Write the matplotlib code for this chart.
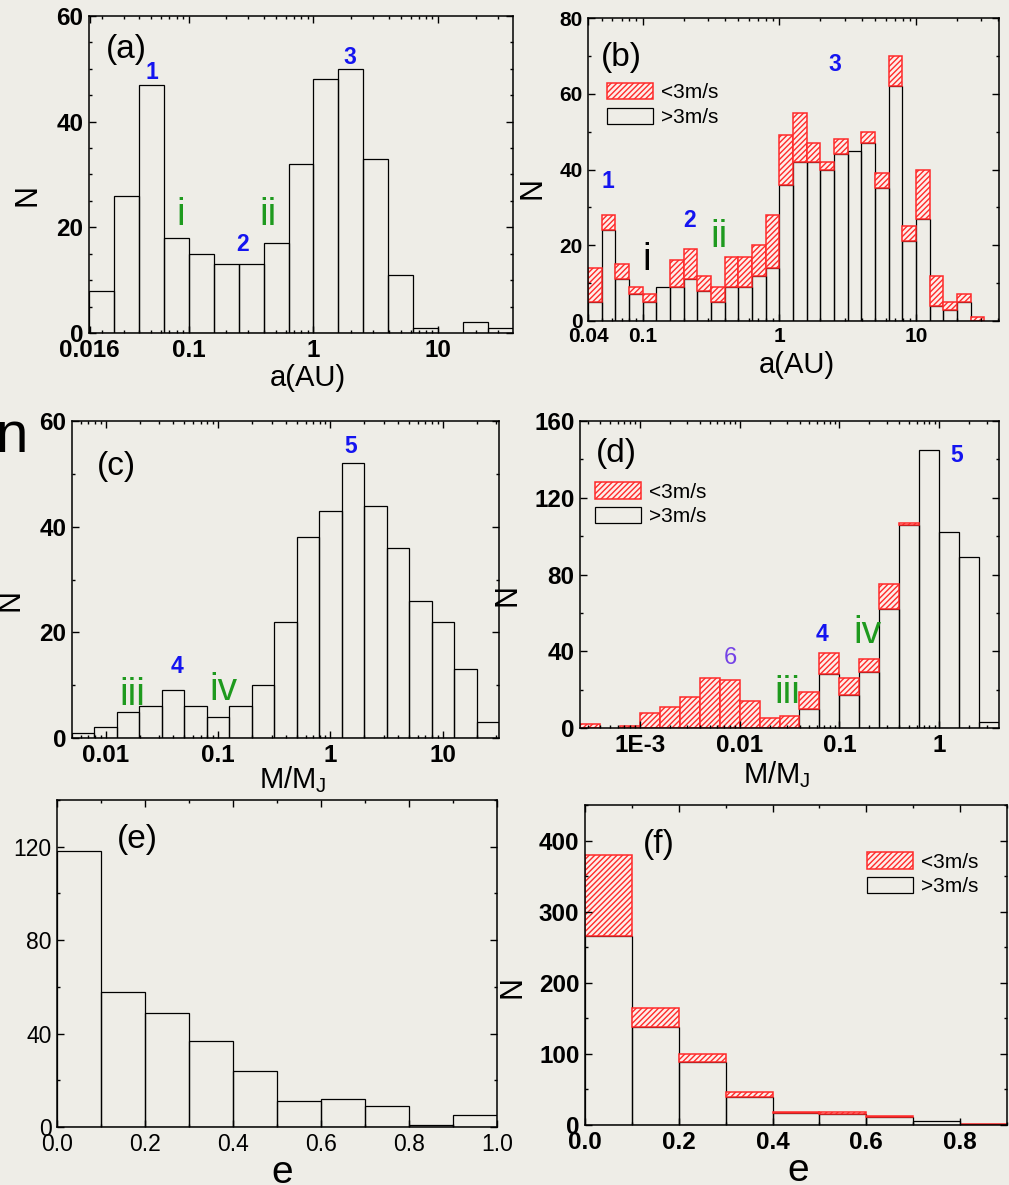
import numpy as np
import matplotlib
matplotlib.use('Agg')
import matplotlib.pyplot as plt
from matplotlib.ticker import MultipleLocator, LogLocator, NullFormatter

plt.rcParams['font.family'] = 'Liberation Sans'
plt.rcParams['mathtext.default'] = 'regular'
plt.rcParams['hatch.linewidth'] = 1.0

# (a) semi-major axis, all planets, 0.2 dex bins starting at 10^-1.8
a_lo, a_step = -1.8, 0.2
a_all = [8, 26, 47, 18, 15, 13, 13, 17, 32, 48, 50, 33, 11, 1, 0, 2, 1]

# (b) semi-major axis split by RV amplitude, 0.1 dex bins starting at 10^-1.4
b_lo, b_step = -1.4, 0.1
b_hi = [5, 24, 11, 7, 5, 9, 9, 11, 8, 5, 9, 9, 12, 14, 36, 42, 42, 40, 44, 45,
        47, 35, 62, 21, 27, 4, 3, 5, 0]
b_tot = [14, 28, 15, 9, 7, 9, 16, 19, 12, 9, 17, 17, 20, 28, 49, 55, 47, 42, 48, 45,
         50, 39, 70, 25, 40, 12, 5, 7, 1]

# (c) mass, all planets, 0.2 dex bins starting at 10^-2.3
c_lo, c_step = -2.3, 0.2
c_all = [1, 2, 5, 6, 9, 6, 4, 6, 10, 22, 38, 43, 52, 44, 36, 26, 22, 13, 3]

# (d) mass split by RV amplitude, 0.2 dex bins starting at 10^-3.6
d_lo, d_step = -3.6, 0.2
d_hi = [0, 0, 0, 0, 0, 0, 0, 0, 0, 0, 0, 10, 28, 17, 29, 62, 106, 145, 102, 89, 3]
d_tot = [2, 0, 1, 8, 11, 16, 26, 25, 14, 5, 6, 19, 39, 26, 36, 75, 107, 145, 102, 89, 3]

# (e) eccentricity, all planets
e_edges = [0.0, 0.1, 0.2, 0.3, 0.4, 0.5, 0.6, 0.7, 0.8, 0.9, 1.0]
e_all = [118, 58, 49, 37, 24, 11, 12, 9, 1, 5]

# (f) eccentricity split by RV amplitude
f_edges = [0.0, 0.1, 0.2, 0.3, 0.4, 0.5, 0.6, 0.7, 0.8, 0.9]
f_hi = [266, 138, 88, 39, 17, 16, 11, 5, 1]
f_tot = [379, 164, 100, 47, 18, 18, 12, 5, 2]

W, H = 1009, 1185
BLUE = '#1414f0'
GREEN = '#1e9a1e'
PURPLE = '#7442e6'
RED = '#ff2a2a'

fig = plt.figure(figsize=(W / 100, H / 100), dpi=100)
fig.patch.set_facecolor('#eeede7')


def add_ax(l, t, r, b):
    return fig.add_axes([l / W, 1 - b / H, (r - l) / W, (b - t) / H], facecolor='none')


def log_edges(lo, step, n):
    return 10 ** (lo + step * np.arange(n + 1))


def draw(ax, edges, vals, bottom=None, red=False):
    edges = np.asarray(edges, float)
    vals = np.asarray(vals, float)
    bottom = np.zeros_like(vals) if bottom is None else np.asarray(bottom, float)
    keep = vals > 0
    left, width = edges[:-1][keep], np.diff(edges)[keep]
    if red:
        return ax.bar(left, vals[keep], width, bottom=bottom[keep], align='edge',
                      facecolor='#fdeeea', edgecolor=RED, hatch='//////', linewidth=1.1)
    return ax.bar(left, vals[keep], width, bottom=bottom[keep], align='edge',
                  facecolor='none', edgecolor='black', linewidth=0.9)


def style(ax, size=17.5, weight='bold'):
    ax.tick_params(which='both', direction='in', top=True, right=True, width=1.0,
                   labelsize=size, pad=4)
    ax.tick_params(which='major', length=5)
    ax.tick_params(which='minor', length=2.5)
    for lab in ax.get_xticklabels() + ax.get_yticklabels():
        lab.set_fontweight(weight)
    for s in ax.spines.values():
        s.set_linewidth(1.1)


def logx(ax, ticks, labels):
    ax.set_xscale('log')
    ax.set_xticks(ticks, labels)
    ax.xaxis.set_minor_locator(LogLocator(base=10, subs=np.arange(2, 10)))
    ax.xaxis.set_minor_formatter(NullFormatter())


def note(ax, x, y, s, color='black', size=16.5, weight='bold', **kw):
    ax.text(x, y, s, transform=ax.transAxes, color=color, fontsize=size,
            fontweight=weight, ha='center', va='center', **kw)


def legend(ax, hr, hb, x, y, size=15):
    ax.legend([hr, hb], ['<3m/s', '>3m/s'], loc='upper left', bbox_to_anchor=(x, y),
              frameon=False, fontsize=size, handlelength=2.2, handleheight=0.82,
              handletextpad=0.4, labelspacing=0.25, borderpad=0, borderaxespad=0)


# ---------------- (a)
ax = add_ax(89, 16, 513, 333)
draw(ax, log_edges(a_lo, a_step, len(a_all)), a_all)
logx(ax, [0.016, 0.1, 1, 10], ['0.016', '0.1', '1', '10'])
ax.set_xlim(10 ** -1.8, 10 ** 1.6)
ax.set_ylim(0, 60)
ax.yaxis.set_major_locator(MultipleLocator(20))
ax.yaxis.set_minor_locator(MultipleLocator(5))
style(ax)
note(ax, 0.087, 0.895, '(a)', size=24, weight='normal')
note(ax, 0.149, 0.823, '1', BLUE)
note(ax, 0.616, 0.868, '3', BLUE)
note(ax, 0.361, 0.278, '2', BLUE)
note(ax, 0.217, 0.372, 'i', GREEN, size=28, weight='normal')
note(ax, 0.422, 0.372, 'ii', GREEN, size=28, weight='normal')
note(ax, -0.144, 0.435, 'N', size=22, weight='normal', rotation=90)
note(ax, 0.517, -0.142, 'a(AU)', size=21, weight='normal')

# ---------------- (b)
ax = add_ax(588, 18, 999, 321)
eb = log_edges(b_lo, b_step, len(b_tot))
hb = draw(ax, eb, b_hi)
hr = draw(ax, eb, np.subtract(b_tot, b_hi), bottom=b_hi, red=True)
logx(ax, [0.04, 0.1, 1, 10], ['0.04', '0.1', '1', '10'])
ax.set_xlim(10 ** -1.4, 10 ** 1.607)
ax.set_ylim(0, 80)
ax.yaxis.set_major_locator(MultipleLocator(20))
ax.yaxis.set_minor_locator(MultipleLocator(10))
style(ax, size=15)
legend(ax, hr, hb, 0.046, 0.785)
note(ax, 0.080, 0.868, '(b)', size=24, weight='normal')
note(ax, 0.601, 0.845, '3', BLUE)
note(ax, 0.049, 0.459, '1', BLUE)
note(ax, 0.246, 0.333, '2', BLUE)
note(ax, 0.144, 0.201, 'i', 'black', size=28, weight='normal')
note(ax, 0.319, 0.277, 'ii', GREEN, size=28, weight='normal')
note(ax, -0.134, 0.439, 'N', size=22, weight='normal', rotation=90)
note(ax, 0.509, -0.145, 'a(AU)', size=21, weight='normal')

# ---------------- (c)
ax = add_ax(72, 421, 499, 738)
draw(ax, log_edges(c_lo, c_step, len(c_all)), c_all)
logx(ax, [0.01, 0.1, 1, 10], ['0.01', '0.1', '1', '10'])
ax.set_xlim(10 ** -2.3, 10 ** 1.5)
ax.set_ylim(0, 60)
ax.yaxis.set_major_locator(MultipleLocator(20))
ax.yaxis.set_minor_locator(MultipleLocator(10))
style(ax)
note(ax, 0.105, 0.855, '(c)', size=24, weight='normal')
note(ax, 0.653, 0.918, '5', BLUE)
note(ax, 0.246, 0.224, '4', BLUE)
note(ax, 0.141, 0.136, 'iii', GREEN, size=28, weight='normal')
note(ax, 0.354, 0.151, 'iv', GREEN, size=28, weight='normal')
note(ax, -0.145, 0.435, 'N', size=22, weight='normal', rotation=90)
note(ax, 0.518, -0.132, 'M/M$_J$', size=21, weight='normal')
fig.text(28 / W, 1 - 452 / H, 'n', fontsize=42, ha='right', va='baseline')

# ---------------- (d)
ax = add_ax(580, 421, 999, 728)
ed = log_edges(d_lo, d_step, len(d_tot))
hb = draw(ax, ed, d_hi)
hr = draw(ax, ed, np.subtract(d_tot, d_hi), bottom=d_hi, red=True)
logx(ax, [1e-3, 0.01, 0.1, 1], ['1E-3', '0.01', '0.1', '1'])
ax.set_xlim(10 ** -3.6, 10 ** 0.6)
ax.set_ylim(0, 160)
ax.yaxis.set_major_locator(MultipleLocator(40))
ax.yaxis.set_minor_locator(MultipleLocator(20))
style(ax)
legend(ax, hr, hb, 0.036, 0.80)
note(ax, 0.088, 0.893, '(d)', size=24, weight='normal')
note(ax, 0.900, 0.889, '5', BLUE)
note(ax, 0.578, 0.303, '4', BLUE)
note(ax, 0.685, 0.309, 'iv', GREEN, size=28, weight='normal')
note(ax, 0.358, 0.228, '6', PURPLE, size=17, weight='normal')
note(ax, 0.494, 0.114, 'iii', GREEN, size=28, weight='normal')
note(ax, -0.172, 0.433, 'N', size=22, weight='normal', rotation=90)
note(ax, 0.470, -0.153, 'M/M$_J$', size=21, weight='normal')

# ---------------- (e)
ax = add_ax(57, 800, 497, 1127)
draw(ax, e_edges, e_all)
ax.set_xlim(0, 1.0)
ax.set_ylim(0, 140)
ax.set_xticks([0.0, 0.2, 0.4, 0.6, 0.8, 1.0], ['0.0', '0.2', '0.4', '0.6', '0.8', '1.0'])
ax.set_yticks([0, 40, 80, 120])
ax.xaxis.set_minor_locator(MultipleLocator(0.1))
ax.yaxis.set_minor_locator(MultipleLocator(20))
style(ax, size=16.5, weight='normal')
note(ax, 0.182, 0.878, '(e)', size=24, weight='normal')
note(ax, 0.511, -0.140, 'e', size=28, weight='normal')

# ---------------- (f)
ax = add_ax(585, 805, 1007, 1125)
hb = draw(ax, f_edges, f_hi)
hr = draw(ax, f_edges, np.subtract(f_tot, f_hi), bottom=f_hi, red=True)
ax.set_xlim(0, 0.9)
ax.set_ylim(0, 450)
ax.set_xticks([0.0, 0.2, 0.4, 0.6, 0.8], ['0.0', '0.2', '0.4', '0.6', '0.8'])
ax.yaxis.set_major_locator(MultipleLocator(100))
ax.xaxis.set_minor_locator(MultipleLocator(0.1))
ax.yaxis.set_minor_locator(MultipleLocator(50))
style(ax)
legend(ax, hr, hb, 0.668, 0.852)
note(ax, 0.175, 0.875, '(f)', size=24, weight='normal')
note(ax, -0.171, 0.431, 'N', size=22, weight='normal', rotation=90)
note(ax, 0.505, -0.143, 'e', size=28, weight='normal')

fig.savefig('out.png', dpi=100, facecolor=fig.get_facecolor())
